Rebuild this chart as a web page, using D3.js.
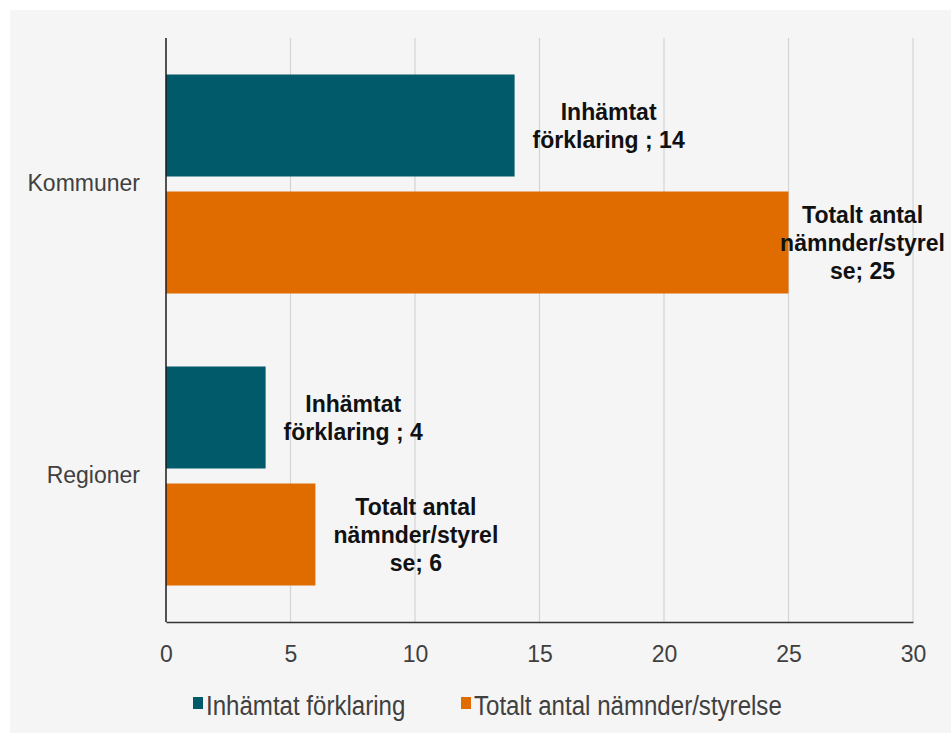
<!DOCTYPE html>
<html>
<head>
<meta charset="utf-8">
<script src="https://cdn.jsdelivr.net/npm/d3@7"></script>
<style>
  html, body { margin: 0; padding: 0; background: #ffffff; }
  svg { display: block; }
</style>
</head>
<body>
<svg id="chart" width="951" height="733"></svg>
<script>
// Categories (top to bottom) and the two series
const categories = ["Kommuner", "Regioner"];
const seriesNames = ["Inhämtat förklaring", "Totalt antal nämnder/styrelse"];
const inhamtatValues = [14, 4];
const totaltValues = [25, 6];
const seriesColors = ["#005a69", "#e06c00"];
const xTicks = [0, 5, 10, 15, 20, 25, 30];

// Data label lines for each series (wrapped the way the chart shows them)
const labelLines = [
  v => ["Inhämtat", "förklaring ; " + v],
  v => ["Totalt antal", "nämnder/styrel", "se; " + v]
];

const seriesValues = [inhamtatValues, totaltValues];
const rows = [];
categories.forEach((c, ci) => {
  seriesNames.forEach((s, si) => {
    rows.push({ category: c, series: s, si, value: seriesValues[si][ci] });
  });
});

const svg = d3.select("#chart");
const W = 951, H = 733;
const plot = { left: 166, right: 913, top: 38, bottom: 622 };
const font = "'Liberation Sans', Arial, sans-serif";

// Light panel behind the chart
svg.append("rect")
  .attr("x", 10).attr("y", 10)
  .attr("width", W - 10).attr("height", H - 10)
  .attr("fill", "#f5f5f5");

const x = d3.scaleLinear().domain([0, 30]).range([plot.left, plot.right]);
const y0 = d3.scaleBand().domain(categories)
  .range([plot.top, plot.bottom])
  .paddingInner(0.25).paddingOuter(0.125);
const y1 = d3.scaleBand().domain(seriesNames)
  .range([0, y0.bandwidth()])
  .paddingInner(15 / 117).paddingOuter(0);

// Vertical gridlines
svg.append("g")
  .selectAll("line")
  .data(xTicks.filter(t => t > 0))
  .join("line")
  .attr("x1", d => x(d)).attr("x2", d => x(d))
  .attr("y1", plot.top).attr("y2", plot.bottom)
  .attr("stroke", "#d4d4d4")
  .attr("stroke-width", 1.2);

// Bars
svg.append("g")
  .selectAll("rect")
  .data(rows)
  .join("rect")
  .attr("x", x(0))
  .attr("y", d => y0(d.category) + y1(d.series))
  .attr("width", d => x(d.value) - x(0))
  .attr("height", y1.bandwidth())
  .attr("fill", d => seriesColors[d.si]);

// Axis lines
svg.append("line")
  .attr("x1", plot.left).attr("x2", plot.left)
  .attr("y1", plot.top).attr("y2", plot.bottom)
  .attr("stroke", "#1a1a1a").attr("stroke-width", 1.5);

const xAxis = d3.axisBottom(x).tickValues(xTicks).tickSize(0).tickPadding(24);
const gx = svg.append("g")
  .attr("transform", `translate(0,${plot.bottom})`)
  .call(xAxis);
gx.select(".domain").attr("stroke", "#333").attr("stroke-width", 1.6);
gx.selectAll("text")
  .attr("font-family", font)
  .attr("font-size", 23)
  .attr("fill", "#404040");

// Category labels
const yAxis = d3.axisLeft(y0).tickSize(0).tickPadding(26);
const gy = svg.append("g")
  .attr("transform", `translate(${plot.left},0)`)
  .call(yAxis);
gy.select(".domain").remove();
gy.selectAll("text")
  .attr("font-family", font)
  .attr("font-size", 23)
  .attr("fill", "#404040");

// Data labels, placed past the bar end and kept inside the chart
const lineH = 28;
const labelG = svg.append("g");
rows.forEach(d => {
  const lines = labelLines[d.si](d.value);
  const cy = y0(d.category) + y1(d.series) + y1.bandwidth() / 2;
  const t = labelG.append("text")
    .attr("font-family", font)
    .attr("font-size", 23)
    .attr("font-weight", "bold")
    .attr("fill", "#111")
    .attr("text-anchor", "middle");
  const spans = t.selectAll("tspan").data(lines).join("tspan").text(s => s);
  let maxW = 0;
  spans.each(function () { maxW = Math.max(maxW, this.getComputedTextLength()); });
  let left = x(d.value) + 18;
  if (left + maxW > 945) left = 945 - maxW;
  const cx = left + maxW / 2;
  const top = cy - (lines.length - 1) * lineH / 2;
  spans.attr("x", cx).attr("y", (s, i) => top + i * lineH + 8);
});

// Legend (condensed lettering)
const legend = svg.append("g");
const legendX = [193, 461];
seriesNames.forEach((s, i) => {
  legend.append("rect")
    .attr("x", legendX[i]).attr("y", 697)
    .attr("width", 10).attr("height", 12)
    .attr("fill", seriesColors[i]);
  legend.append("text")
    .attr("transform", `translate(${legendX[i] + 13},715) scale(0.86,1)`)
    .attr("font-family", font)
    .attr("font-size", 28)
    .attr("fill", "#404040")
    .text(s);
});
</script>
</body>
</html>
